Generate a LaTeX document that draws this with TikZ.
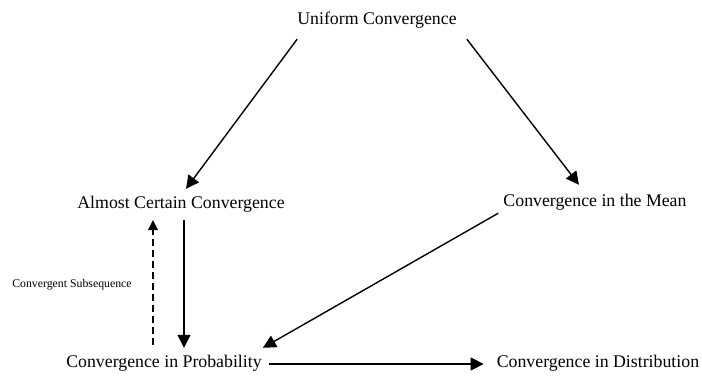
\documentclass[tikz,border=0pt]{standalone}
\usepackage{fontspec}
\setmainfont{Liberation Serif}
\usetikzlibrary{arrows.meta}
\tikzset{
  mode/.style={inner sep=0pt,anchor=base,text height=12pt,text depth=4pt,font=\fontsize{17.8}{20}\selectfont},
  imp/.style={-{Triangle[length=13pt,width=13pt]},line width=1.4pt},
}
\begin{document}
\begin{tikzpicture}[x=1pt,y=-1pt,
       note/.style={inner sep=0pt,anchor=base,font=\fontsize{11.8}{14}\selectfont},
       back/.style={-{Triangle[length=10pt,width=10pt]},line width=1.1pt,dash pattern=on 7pt off 4pt}]
      \useasboundingbox (0,0) rectangle (702,376);
      \node[mode] (unif) at (377,24) {Uniform Convergence};
      \node[mode] (as) at (181,208) {Almost Certain Convergence};
      \node[mode] (mean) at (595,206) {Convergence in the Mean};
      \node[mode] (prob) at (164,367) {Convergence in Probability};
      \node[mode] (dist) at (598,367) {Convergence in Distribution};
      \node[note] (sub) at (72,287) {Convergent Subsequence};
      \draw[imp] ([shift={(0,11)}]unif.south west) -- ([shift={(5,-7)}]as.north);
      \draw[imp] ([shift={(10,11)}]unif.south east) -- ([shift={(-16,-9)}]mean.north);
      \draw[imp] ([shift={(3,8)}]as.south) -- ([shift={(20,-7)}]prob.north);
      \draw[back] ([shift={(-11,-10)}]prob.north) -- ([shift={(-28,8)}]as.south);
      \draw[imp] ([shift={(-5,3)}]mean.south west) -- ([shift={(1,-7)}]prob.north east);
      \draw[imp] ([shift={(7,1)}]prob.east) -- ([shift={(-13,1)}]dist.west);
    \end{tikzpicture}
\end{document}
